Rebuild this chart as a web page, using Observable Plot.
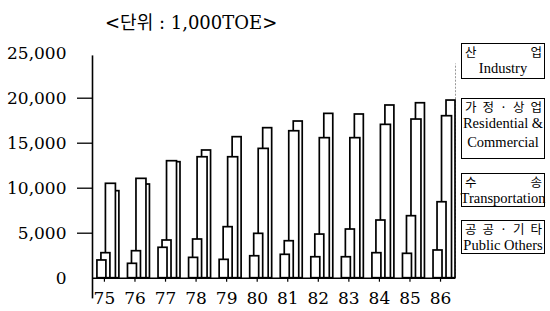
<!DOCTYPE html>
<html>
<head>
<meta charset="utf-8">
<script src="https://cdn.jsdelivr.net/npm/d3@7"></script>
<script src="https://cdn.jsdelivr.net/npm/@observablehq/plot@0.6"></script>
<style>
  html, body { margin: 0; padding: 0; background: #fff; }
  #wrap { position: relative; width: 550px; height: 311px; overflow: hidden; }
  #wrap svg { position: absolute; left: 0; top: 0; }
  #title { position: absolute; left: 105px; top: 8px; font: 18px "DejaVu Serif", "Noto Sans CJK KR"; color: #000; white-space: nowrap; }
  .box { position: absolute; left: 461px; width: 84px; box-sizing: border-box; border: 1.5px solid #000; background: #fff; color: #000; }
  .ko { display: flex; justify-content: space-between; font: 12.5px "Noto Sans CJK KR"; line-height: 14px; padding: 1px 2px 0 3px; }
  .en { text-align: center; font: 14.5px "Liberation Serif"; line-height: 19px; white-space: nowrap; margin: 0 -4px; }
</style>
</head>
<body>
<div id="wrap">
  <div id="title">&lt;단위 : 1,000TOE&gt;</div>
</div>
<script>
// ---- data ----
const years = [75, 76, 77, 78, 79, 80, 81, 82, 83, 84, 85, 86];
const industry     = [9670, 10410, 12890, 14190, 15670, 16670, 17410, 18260, 18190, 19190, 19440, 19740];
const residential  = [10490, 11040, 13000, 13440, 13440, 14370, 16330, 15560, 15560, 17040, 17630, 18000];
const transport    = [2780, 3000, 4190, 4300, 5670, 4930, 4110, 4850, 5410, 6410, 6890, 8440];
const publicOthers = [1970, 1600, 3380, 2260, 2040, 2440, 2600, 2330, 2330, 2780, 2710, 3080];
const yTicks = [0, 5000, 10000, 15000, 20000, 25000];
const legendKo = [["산", "업"], ["가", "정", "·", "상", "업"], ["수", "송"], ["공", "공", "·", "기", "타"]];
const legendEn = [["Industry"], ["Residential &", "Commercial"], ["Transportation"], ["Public Others"]];

const data = years.map((year, i) => ({
  year,
  industry: industry[i],
  residential: residential[i],
  transport: transport[i],
  publicOthers: publicOthers[i]
}));

const X0 = 74.61, X1 = 86.49;
const barStyle = { fill: "white", stroke: "black", strokeWidth: 1.7 };
const fmt = d3.format(",");

const chart = Plot.plot({
  width: 550,
  height: 311,
  marginLeft: 92,
  marginRight: 95,
  marginTop: 52.7,
  marginBottom: 33.3,
  x: { domain: [X0, X1] },
  y: { domain: [0, 25000] },
  style: { fontFamily: "DejaVu Serif", fontSize: "17px", color: "#000", background: "transparent", overflow: "visible" },
  marks: [
    Plot.ruleX([X1], { y1: 0, y2: 23800, stroke: "#999", strokeWidth: 1, strokeDasharray: "2,1.5" }),
    Plot.rect(data, { x1: d => d.year + 0.196, x2: d => d.year + 0.49, y1: () => 0, y2: "industry", ...barStyle }),
    Plot.rect(data, { x1: d => d.year + 0.049, x2: d => d.year + 0.376, y1: () => 0, y2: "residential", ...barStyle }),
    Plot.rect(data, { x1: d => d.year - 0.098, x2: d => d.year + 0.196, y1: () => 0, y2: "transport", ...barStyle }),
    Plot.rect(data, { x1: d => d.year - 0.229, x2: d => d.year + 0.065, y1: () => 0, y2: "publicOthers", ...barStyle }),
    Plot.ruleY([0], { x1: X0, x2: X1, strokeWidth: 1.6 }),
    Plot.ruleX([X0], { y1: -2300, y2: 24700, strokeWidth: 1.6 }),
    Plot.axisX(years, { tickSize: 4, tickPadding: 10, tickFormat: d => String(d), strokeWidth: 1.2 }),
    Plot.axisY(yTicks.filter(v => v > 0 && v < 25000), { tickSize: 15, tickPadding: 11, tickFormat: fmt, strokeWidth: 1.3 }),
    Plot.axisY([yTicks[0], yTicks[yTicks.length - 1]], { tickSize: 0, tickPadding: 26, tickFormat: fmt })
  ]
});

const wrap = document.getElementById("wrap");
wrap.insertBefore(chart, wrap.firstChild);

// legend boxes (top, height) in page pixels
const boxPos = [[43, 36], [98, 61], [173, 34], [220, 34]];
legendKo.forEach((ko, i) => {
  const box = document.createElement("div");
  box.className = "box";
  box.style.top = boxPos[i][0] + "px";
  box.style.height = boxPos[i][1] + "px";
  const row = document.createElement("div");
  row.className = "ko";
  ko.forEach(ch => { const s = document.createElement("span"); s.textContent = ch; row.appendChild(s); });
  box.appendChild(row);
  legendEn[i].forEach(line => {
    const e = document.createElement("div");
    e.className = "en";
    e.textContent = line;
    box.appendChild(e);
  });
  wrap.appendChild(box);
});
</script>
</body>
</html>
